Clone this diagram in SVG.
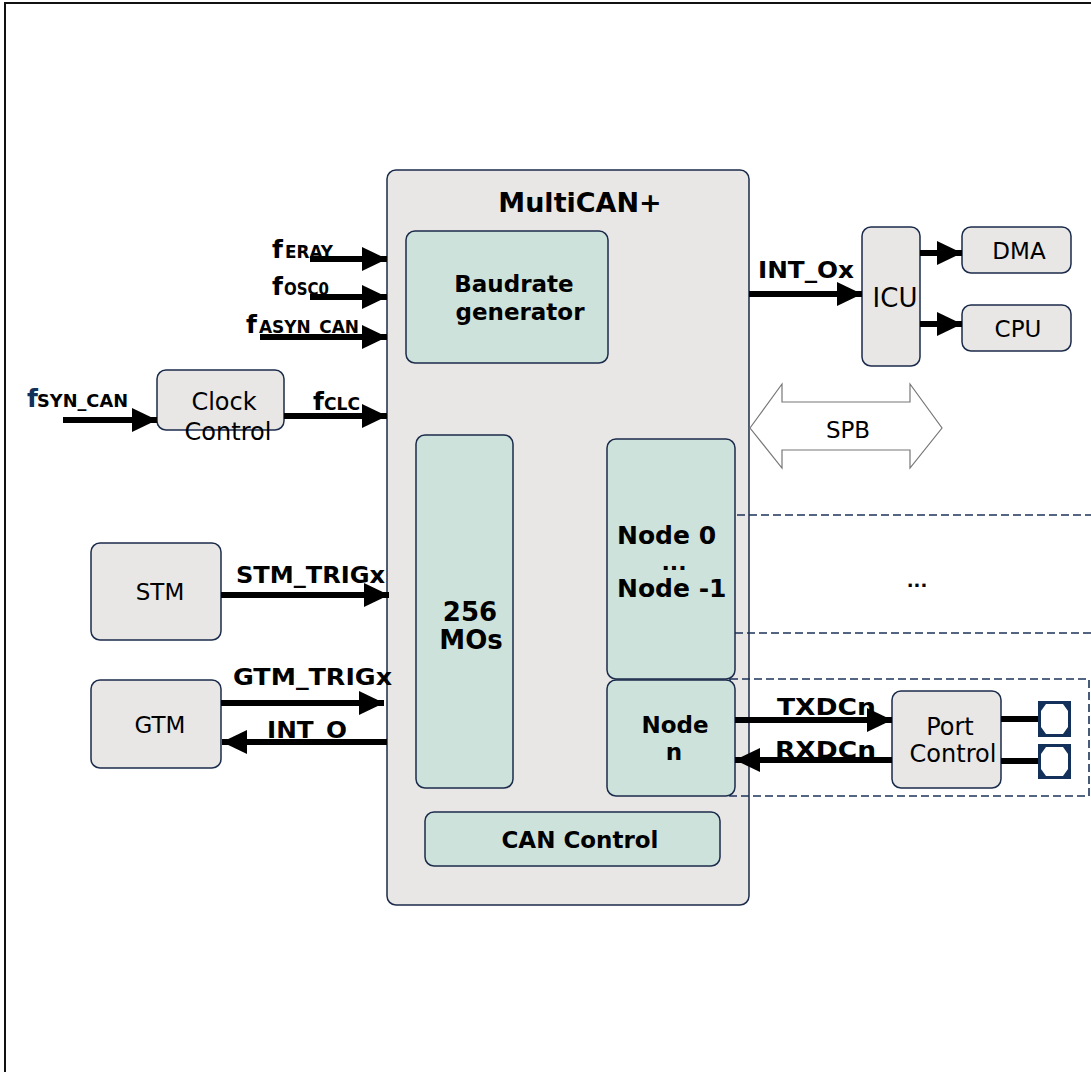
<svg xmlns="http://www.w3.org/2000/svg" width="1091" height="1072" viewBox="0 0 1091 1072">
<defs>
<style>
.frame{fill:#fff;stroke:#111;stroke-width:2}
.gray{fill:#e8e7e6;stroke:#1b2b4b;stroke-width:1.5}
.mint{fill:#cee2dc;stroke:#1b2b4b;stroke-width:1.5}
.t{font-family:"DejaVu Sans",Verdana,sans-serif;fill:#000}
.b{font-weight:bold}
.reg{font-size:23px}
.lbl{font-size:23px;font-weight:bold}
.f{font-size:25px;font-weight:bold}
.sub{font-size:17px;font-weight:bold}
.w{stroke:#000;stroke-width:6;fill:none}
.dash{stroke:#1c3358;stroke-width:1.6;stroke-dasharray:8 4;fill:none}
.pad{fill:#13305a}
</style>
<marker id="ah" markerUnits="userSpaceOnUse" markerWidth="26" markerHeight="26" refX="25" refY="12" orient="auto">
<path d="M0,0 L25,12 L0,24 z" fill="#000"/>
</marker>
</defs>
<rect x="5" y="3" width="1100" height="1100" class="frame"/>

<g id="multican">
<rect x="387" y="170" width="362" height="735" rx="9" class="gray"/>
<text x="580" y="212" class="t b" font-size="27" text-anchor="middle">MultiCAN+</text>
</g>

<g id="dashed">
<line x1="737" y1="515" x2="1091" y2="515" class="dash"/>
<line x1="735" y1="633" x2="1091" y2="633" class="dash"/>
<rect x="730" y="679" width="359" height="117" class="dash"/>
<text x="917" y="587" class="t b" font-size="18" text-anchor="middle">...</text>
</g>

<g id="baudrate">
<rect x="406" y="231" width="202" height="132" rx="9" class="mint"/>
<text x="514" y="292" class="t b" font-size="23" text-anchor="middle">Baudrate</text>
<text x="520" y="320" class="t b" font-size="23" text-anchor="middle">generator</text>
</g>

<g id="mos">
<rect x="416" y="435" width="97" height="353" rx="9" class="mint"/>
<text x="470" y="621" class="t b" font-size="26" text-anchor="middle">256</text>
<text x="471" y="649" class="t b" font-size="26" text-anchor="middle">MOs</text>
</g>

<g id="node0">
<rect x="607" y="439" width="128" height="240" rx="9" class="mint"/>
<text x="617" y="544" class="t b" font-size="25">Node 0</text>
<text x="674" y="570" class="t b" font-size="22" text-anchor="middle">...</text>
<text x="617" y="597" class="t b" font-size="25">Node -1</text>
</g>

<g id="noden">
<rect x="607" y="680" width="128" height="116" rx="9" class="mint"/>
<text x="675" y="733" class="t b" font-size="23" text-anchor="middle">Node</text>
<text x="674" y="760" class="t b" font-size="23" text-anchor="middle">n</text>
</g>

<g id="cancontrol">
<rect x="425" y="812" width="295" height="54" rx="9" class="mint"/>
<text x="580" y="848" class="t b" font-size="23" text-anchor="middle">CAN Control</text>
</g>

<g id="clockcontrol">
<rect x="157" y="370" width="127" height="60" rx="9" class="gray"/>
<text x="224" y="410" class="t" font-size="24" text-anchor="middle">Clock</text>
<text x="228" y="440" class="t" font-size="24" text-anchor="middle">Control</text>
</g>

<g id="stm">
<rect x="91" y="543" width="130" height="97" rx="9" class="gray"/>
<text x="160" y="600" class="t reg" text-anchor="middle">STM</text>
</g>

<g id="gtm">
<rect x="91" y="680" width="130" height="88" rx="9" class="gray"/>
<text x="160" y="733" class="t reg" text-anchor="middle">GTM</text>
</g>

<g id="icu">
<rect x="862" y="227" width="58" height="139" rx="9" class="gray"/>
<text x="895" y="307" class="t" font-size="26" text-anchor="middle">ICU</text>
</g>

<g id="dma">
<rect x="962" y="227" width="109" height="46" rx="9" class="gray"/>
<text x="1019" y="259" class="t reg" text-anchor="middle">DMA</text>
</g>

<g id="cpu">
<rect x="962" y="305" width="109" height="46" rx="9" class="gray"/>
<text x="1018" y="337" class="t reg" text-anchor="middle">CPU</text>
</g>

<g id="portcontrol">
<rect x="892" y="691" width="109" height="97" rx="9" class="gray"/>
<text x="950" y="735" class="t" font-size="24" text-anchor="middle">Port</text>
<text x="953" y="762" class="t" font-size="24" text-anchor="middle">Control</text>
</g>

<g id="pads">
<rect x="1038" y="701" width="33" height="36" class="pad"/>
<polygon points="1046,704 1063,704 1068,711 1068,727 1063,734 1046,734 1041,727 1041,711" fill="#fff"/>
<rect x="1038" y="744" width="33" height="35" class="pad"/>
<polygon points="1046,747 1063,747 1068,754 1068,769 1063,776 1046,776 1041,769 1041,754" fill="#fff"/>
</g>

<g id="spb">
<polygon points="750,428 782,384 782,402 910,402 910,384 942,428 910,468 910,450 782,450 782,468" fill="#fff" stroke="#777" stroke-width="1.2"/>
<text x="848" y="438" class="t reg" text-anchor="middle">SPB</text>
</g>

<g id="connectors">
<line x1="310" y1="259" x2="387" y2="259" class="w" marker-end="url(#ah)"/>
<line x1="310" y1="297" x2="387" y2="297" class="w" marker-end="url(#ah)"/>
<line x1="260" y1="337" x2="387" y2="337" class="w" marker-end="url(#ah)"/>
<line x1="63" y1="420" x2="157" y2="420" class="w" marker-end="url(#ah)"/>
<line x1="284" y1="416" x2="387" y2="416" class="w" marker-end="url(#ah)"/>
<line x1="221" y1="595" x2="389" y2="595" class="w" marker-end="url(#ah)"/>
<line x1="221" y1="703" x2="384" y2="703" class="w" marker-end="url(#ah)"/>
<line x1="387" y1="742" x2="222" y2="742" class="w" marker-end="url(#ah)"/>
<line x1="749" y1="294" x2="862" y2="294" class="w" marker-end="url(#ah)"/>
<line x1="920" y1="253" x2="962" y2="253" class="w" marker-end="url(#ah)"/>
<line x1="920" y1="324" x2="962" y2="324" class="w" marker-end="url(#ah)"/>
<line x1="735" y1="720" x2="892" y2="720" class="w" marker-end="url(#ah)"/>
<line x1="892" y1="760" x2="735" y2="760" class="w" marker-end="url(#ah)"/>
<line x1="1001" y1="719" x2="1038" y2="719" class="w"/>
<line x1="1001" y1="761" x2="1038" y2="761" class="w"/>
</g>

<g id="labels">
<text x="272" y="258" class="t"><tspan class="f">f</tspan><tspan class="sub" x="285" textLength="48" lengthAdjust="spacingAndGlyphs">ERAY</tspan></text>
<text x="272" y="295" class="t"><tspan class="f">f</tspan><tspan class="sub" x="284" textLength="45" lengthAdjust="spacingAndGlyphs">OSC0</tspan></text>
<text x="246" y="333" class="t"><tspan class="f">f</tspan><tspan class="sub" x="259" textLength="100" lengthAdjust="spacingAndGlyphs">ASYN_CAN</tspan></text>
<text x="27" y="407" class="t"><tspan class="f" fill="#13305a">f</tspan><tspan class="sub" x="37" textLength="91" lengthAdjust="spacingAndGlyphs">SYN_CAN</tspan></text>
<text x="313" y="410" class="t"><tspan class="f">f</tspan><tspan class="sub" x="324" textLength="36" lengthAdjust="spacingAndGlyphs">CLC</tspan></text>
<text x="236" y="583" class="t lbl" textLength="149" lengthAdjust="spacingAndGlyphs">STM_TRIGx</text>
<text x="233" y="685" class="t lbl" textLength="159" lengthAdjust="spacingAndGlyphs">GTM_TRIGx</text>
<text x="267" y="738" class="t lbl" textLength="80" lengthAdjust="spacingAndGlyphs">INT_O</text>
<text x="758" y="278" class="t lbl" textLength="96" lengthAdjust="spacingAndGlyphs">INT_Ox</text>
<text x="777" y="715" class="t lbl" textLength="99" lengthAdjust="spacingAndGlyphs">TXDCn</text>
<text x="775" y="758" class="t lbl" textLength="101" lengthAdjust="spacingAndGlyphs">RXDCn</text>
</g>
</svg>
